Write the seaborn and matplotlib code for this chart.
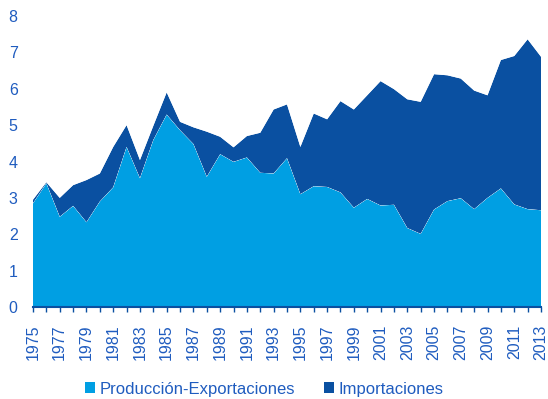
import matplotlib
matplotlib.use("Agg")
import matplotlib.pyplot as plt
from matplotlib.patches import Patch
import pandas as pd
import seaborn as sns
import seaborn.objects as so

years = list(range(1975, 2014))

# Producción menos exportaciones (lower band)
produccion_exportaciones = [
    2.85, 3.40, 2.48, 2.78, 2.33, 2.90, 3.29, 4.40, 3.54, 4.59,
    5.29, 4.86, 4.48, 3.58, 4.20, 3.99, 4.11, 3.69, 3.67, 4.09,
    3.10, 3.32, 3.30, 3.15, 2.73, 2.97, 2.79, 2.81, 2.17, 2.01,
    2.68, 2.91, 2.99, 2.69, 3.00, 3.26, 2.82, 2.69, 2.66,
]

# Consumo aparente total (top of the stack)
total = [
    2.95, 3.43, 3.00, 3.35, 3.49, 3.67, 4.40, 5.00, 4.04, 4.98,
    5.90, 5.09, 4.94, 4.82, 4.68, 4.39, 4.70, 4.79, 5.43, 5.57,
    4.40, 5.32, 5.16, 5.66, 5.43, 5.82, 6.21, 5.99, 5.71, 5.64,
    6.40, 6.37, 6.28, 5.95, 5.82, 6.79, 6.90, 7.36, 6.88,
]

importaciones = [round(t - p, 2) for t, p in zip(total, produccion_exportaciones)]

series_names = ["Producción-Exportaciones", "Importaciones"]
series_colors = {"Producción-Exportaciones": "#009FE3", "Importaciones": "#0A50A1"}
y_ticks = list(range(0, 9))

text_color = "#1F5CBF"
axis_color = "#0A50A1"

df = pd.concat([
    pd.DataFrame({"year": years, "value": produccion_exportaciones, "serie": series_names[0]}),
    pd.DataFrame({"year": years, "value": importaciones, "serie": series_names[1]}),
], ignore_index=True)

sns.set_theme(style="white")
plt.rcParams["font.family"] = ["Liberation Sans", "DejaVu Sans"]
so.Plot.config.theme.update(sns.axes_style("white"))
so.Plot.config.theme.update({"font.family": ["Liberation Sans", "DejaVu Sans"]})

fig = plt.figure(figsize=(5.48, 3.99), dpi=100)
ax = fig.add_axes([33 / 548, 1 - 307 / 399, 508 / 548, 291 / 399])

(
    so.Plot(df, x="year", y="value", color="serie")
    .add(so.Area(alpha=1, edgewidth=0), so.Stack(), legend=False)
    .scale(color=so.Nominal(series_colors, order=series_names))
    .limit(x=(1975, 2013), y=(0, 8))
    .on(ax)
    .plot()
)

ax.set_xlim(1975, 2013)
ax.set_ylim(0, 8)
ax.set_xlabel("")
ax.set_ylabel("")
ax.grid(False)
ax.set_facecolor("white")

ax.set_xticks(years)
ax.set_xticklabels([str(y) if (y - 1975) % 2 == 0 else "" for y in years],
                   rotation=90, fontsize=11.5, color=text_color)
ax.tick_params(axis="x", direction="out", length=3.5, width=1, color=axis_color,
               pad=9, bottom=True)

ax.set_yticks(y_ticks)
ax.set_yticklabels([str(v) for v in y_ticks], fontsize=11.5, color=text_color)
ax.tick_params(axis="y", length=0, pad=11)

for side in ["top", "right", "left"]:
    ax.spines[side].set_visible(False)
ax.spines["bottom"].set_color(axis_color)
ax.spines["bottom"].set_linewidth(1.5)
ax.spines["bottom"].set_zorder(5)

handles = [Patch(facecolor=series_colors[n], edgecolor="none", label=n) for n in series_names]
fig.legend(handles=handles, loc="center", bbox_to_anchor=(0.482, 0.025), ncol=2,
           frameon=False, fontsize=12, labelcolor=text_color,
           handlelength=0.6, handleheight=0.6, handletextpad=0.3, columnspacing=1.7)

fig.savefig("out.png", dpi=100)
